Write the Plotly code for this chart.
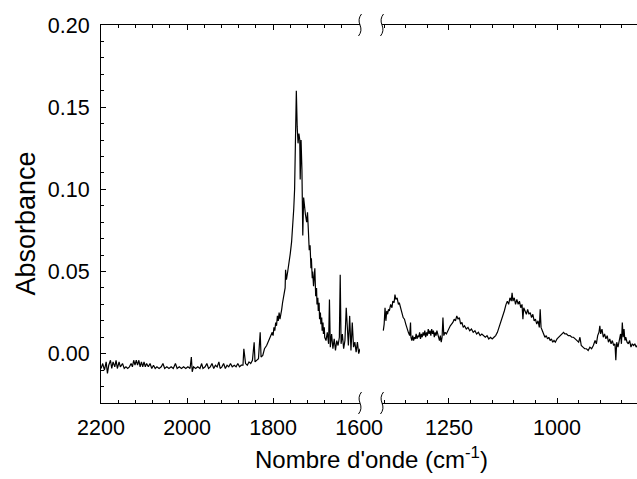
import plotly.graph_objects as go
from plotly.subplots import make_subplots

# IR absorbance spectrum, carbonyl region (2200-1598 cm-1)
wn_high = [2200, 2196, 2192, 2188, 2185, 2182, 2178, 2175, 2172, 2168, 2165, 2162, 2158, 2155, 2150,
           2146, 2142, 2138, 2134, 2130, 2127, 2124, 2121, 2118, 2115, 2112, 2109, 2106, 2103, 2100,
           2097, 2094, 2090, 2086, 2082, 2078, 2074, 2070, 2065, 2060, 2056, 2052, 2047, 2042, 2037,
           2032, 2027, 2023, 2018, 2013, 2008, 2003, 1998, 1993, 1990, 1988, 1985, 1980, 1975, 1970,
           1966, 1963, 1958, 1954, 1950, 1946, 1942, 1938, 1934, 1930, 1926, 1923, 1919, 1915, 1911,
           1907, 1903, 1899, 1895, 1890, 1886, 1882, 1878, 1874, 1870, 1868, 1864, 1860, 1856, 1852,
           1848, 1844, 1842, 1838, 1834, 1830, 1828, 1824, 1820, 1815, 1810, 1806,
           1802, 1800, 1798, 1796, 1794, 1792, 1790, 1788, 1786, 1784, 1782, 1780, 1778, 1776, 1774, 1772,
           1771, 1769, 1766, 1763, 1760, 1757, 1754, 1752, 1750,
           1748, 1746, 1744, 1742, 1740, 1738, 1737, 1735, 1733, 1731, 1729, 1727, 1725, 1722, 1720,
           1718, 1716, 1714, 1712, 1711, 1709, 1708, 1706, 1705, 1703, 1701, 1699, 1698, 1696, 1695,
           1693, 1692, 1690, 1689, 1687, 1686, 1684, 1683, 1681, 1680,
           1677, 1674, 1671, 1669, 1667, 1664, 1661, 1658, 1655, 1652, 1649, 1646, 1644, 1642, 1639,
           1636, 1633, 1630, 1627, 1625, 1622, 1619, 1616, 1613, 1610, 1607, 1604, 1601, 1598]
abs_high = [-0.009, -0.006, -0.010, -0.005, -0.012, -0.007, -0.004, -0.009, -0.005, -0.008, -0.004, -0.009, -0.005, -0.008, -0.006,
            -0.009, -0.008, -0.009, -0.008, -0.006, -0.008, -0.004, -0.007, -0.004, -0.007, -0.004, -0.008, -0.005, -0.008, -0.005,
            -0.008, -0.006, -0.008, -0.006, -0.009, -0.007, -0.009, -0.008, -0.009, -0.008, -0.006, -0.009, -0.008, -0.009, -0.008,
            -0.009, -0.006, -0.009, -0.008, -0.009, -0.008, -0.009, -0.008, -0.009, -0.002, -0.011, -0.008, -0.009, -0.008, -0.009,
            -0.006, -0.009, -0.008, -0.006, -0.009, -0.008, -0.006, -0.009, -0.007, -0.008, -0.005, -0.009, -0.008, -0.006, -0.009,
            -0.007, -0.008, -0.006, -0.008, -0.007, -0.008, -0.006, -0.008, -0.007, -0.007, 0.003, -0.006, -0.007, -0.005, -0.006,
            -0.004, 0.007, -0.005, -0.004, -0.003, 0.013, -0.002, -0.001, 0.003, 0.005, 0.008, 0.010,
            0.013, 0.011, 0.016, 0.014, 0.019, 0.017, 0.023, 0.020, 0.025, 0.021, 0.026, 0.027, 0.031, 0.034, 0.038, 0.040,
            0.051, 0.045, 0.050, 0.055, 0.061, 0.068, 0.078, 0.088, 0.100,
            0.125, 0.160, 0.138, 0.128, 0.134, 0.130, 0.106, 0.130, 0.112, 0.072, 0.095, 0.088, 0.085, 0.080, 0.086,
            0.075, 0.063, 0.066, 0.052, 0.058, 0.046, 0.050, 0.041, 0.046, 0.052, 0.035, 0.040, 0.030, 0.034, 0.026,
            0.031, 0.021, 0.025, 0.018, 0.022, 0.014, 0.019, 0.012, 0.016, 0.010,
            0.008, 0.013, 0.006, 0.033, 0.004, 0.012, 0.003, 0.009, 0.002, 0.008, 0.005, 0.010, 0.048, 0.006, 0.012,
            0.003, 0.008, 0.028, 0.010, 0.005, 0.023, 0.002, 0.019, 0.004, 0.007, 0.001, 0.007, 0.000, 0.003]

# Fingerprint region (1402-815 cm-1)
wn_low = [1402, 1400, 1398, 1396, 1394, 1392, 1390, 1388, 1385, 1382, 1380, 1377, 1375, 1373, 1370,
          1367, 1365, 1362, 1359, 1356, 1353, 1350, 1347, 1344, 1341, 1339,
          1338, 1336, 1334, 1332, 1330, 1328, 1326, 1324, 1322, 1320, 1318, 1316, 1314, 1312, 1310,
          1308, 1306, 1304, 1302, 1300, 1298, 1296, 1294, 1292, 1290, 1288, 1286, 1284, 1282, 1280,
          1278, 1276, 1274, 1272, 1270, 1268, 1266, 1264, 1262, 1259, 1256, 1253, 1250, 1247, 1244, 1241,
          1238, 1235, 1232, 1229, 1226, 1223, 1220, 1217, 1214, 1210, 1206, 1202, 1198, 1194, 1190,
          1186, 1182, 1178, 1174, 1170, 1166, 1162, 1158, 1154, 1150, 1146, 1142, 1138, 1134, 1130,
          1126, 1122, 1118, 1115, 1112, 1109, 1106, 1104, 1102, 1099, 1096, 1093, 1090, 1087, 1084,
          1081, 1079, 1077, 1074, 1071, 1068, 1065, 1062, 1059, 1056, 1053, 1050, 1047, 1044, 1041,
          1039, 1037, 1034, 1031, 1028, 1025, 1022, 1019, 1016, 1013, 1010, 1007, 1004, 1000, 996,
          992, 988, 985, 982, 978, 974, 970, 966, 962, 958, 954, 950, 947, 944, 940,
          936, 932, 928, 924, 920, 916, 912, 909, 906, 903, 901, 899, 896, 893, 890,
          887, 884, 881, 878, 875, 872, 869, 866, 864, 862, 859, 856, 853, 851, 849,
          847, 845, 843, 841, 838, 835, 832, 829, 826, 823, 820, 817, 815]
abs_low = [0.014, 0.018, 0.028, 0.020, 0.026, 0.024, 0.027, 0.026, 0.030, 0.028, 0.032, 0.031, 0.036, 0.033, 0.034,
           0.030, 0.031, 0.027, 0.025, 0.022, 0.021, 0.018, 0.015, 0.013, 0.011, 0.019,
           0.010, 0.008, 0.011, 0.008, 0.010, 0.009, 0.012, 0.009, 0.011, 0.010, 0.013, 0.009, 0.012, 0.010, 0.013,
           0.011, 0.014, 0.010, 0.013, 0.011, 0.015, 0.012, 0.014, 0.011, 0.015, 0.012, 0.014, 0.010, 0.013, 0.011,
           0.014, 0.012, 0.010, 0.008, 0.011, 0.007, 0.010, 0.022, 0.011, 0.013, 0.012, 0.014, 0.015, 0.017, 0.018, 0.019,
           0.021, 0.020, 0.023, 0.021, 0.022, 0.018, 0.019, 0.016, 0.017, 0.015, 0.016, 0.014, 0.015, 0.013, 0.014,
           0.012, 0.013, 0.011, 0.012, 0.011, 0.010, 0.011, 0.009, 0.010, 0.009, 0.010, 0.011, 0.013, 0.016, 0.019,
           0.022, 0.026, 0.030, 0.032, 0.030, 0.034, 0.032, 0.037, 0.032, 0.034, 0.030, 0.033, 0.030, 0.032, 0.028,
           0.030, 0.021, 0.028, 0.026, 0.024, 0.027, 0.024, 0.025, 0.022, 0.024, 0.020, 0.021, 0.018, 0.020, 0.016,
           0.027, 0.016, 0.014, 0.012, 0.010, 0.011, 0.009, 0.010, 0.008, 0.009, 0.007, 0.008, 0.007, 0.009, 0.010,
           0.011, 0.012, 0.013, 0.012, 0.012, 0.011, 0.011, 0.010, 0.010, 0.009, 0.008, 0.007, 0.010, 0.005, 0.004,
           0.003, 0.003, 0.002, 0.004, 0.003, 0.005, 0.008, 0.006, 0.011, 0.013, 0.017, 0.012, 0.015, 0.010, 0.012,
           0.009, 0.011, 0.007, 0.009, 0.006, 0.008, 0.005, 0.006, -0.004, 0.007, 0.004, 0.008, 0.012, 0.006, 0.019,
           0.010, 0.015, 0.008, 0.010, 0.007, 0.006, 0.008, 0.004, 0.006, 0.005, 0.006, 0.004, 0.005]

high_ticks = [2200, 2000, 1800, 1600]
low_ticks = [1250, 1000]
y_ticks = [0.00, 0.05, 0.10, 0.15, 0.20]
y_tick_text = ["0.00", "0.05", "0.10", "0.15", "0.20"]

W, H = 637, 479
ML, MR, MT, MB = 101, 0, 25, 76
PW, PH = W - ML - MR, H - MT - MB
left_end_px, right_start_px = 360, 382
dom_left = [0, (left_end_px - ML) / PW]
dom_right = [(right_start_px - ML) / PW, 1]

FONT = "Liberation Sans, Arial, Helvetica, sans-serif"
TICK_SIZE = 21.5

fig = make_subplots(rows=1, cols=2, shared_yaxes=False, horizontal_spacing=0.04)

line_style = dict(color="black", width=1.2)
fig.add_trace(go.Scatter(x=wn_high, y=abs_high, mode="lines", line=line_style,
                         showlegend=False, hoverinfo="skip"), row=1, col=1)
fig.add_trace(go.Scatter(x=wn_low, y=abs_low, mode="lines", line=line_style,
                         showlegend=False, hoverinfo="skip"), row=1, col=2)

xcommon = dict(showgrid=False, zeroline=False, showline=True, linecolor="black", linewidth=1,
               mirror="ticks", ticks="inside", ticklen=5, tickwidth=1, tickcolor="black",
               automargin=False,
               tickfont=dict(family=FONT, size=TICK_SIZE, color="black"), ticklabelstandoff=5)

fig.update_layout(
    width=W, height=H,
    margin=dict(l=ML, r=MR, t=MT, b=MB, autoexpand=False),
    paper_bgcolor="white", plot_bgcolor="white",
    showlegend=False,
    xaxis=dict(domain=dom_left, range=[2200, 1598], tickmode="array", tickvals=high_ticks,
               minor=dict(tick0=2200, dtick=40, ticks="inside", ticklen=3, tickcolor="black"),
               **xcommon),
    xaxis2=dict(domain=dom_right, range=[1405, 815], tickmode="array", tickvals=low_ticks,
                minor=dict(tick0=1000, dtick=50, ticks="inside", ticklen=3, tickcolor="black"),
                **xcommon),
    yaxis=dict(range=[-0.03, 0.20], tickmode="array", tickvals=y_ticks, ticktext=y_tick_text,
               showgrid=False, zeroline=False, showline=True, linecolor="black", linewidth=1,
               ticks="inside", ticklen=5, tickwidth=1, tickcolor="black", automargin=False,
               minor=dict(dtick=0.01, tick0=0, ticks="inside", ticklen=3, tickcolor="black"),
               tickfont=dict(family=FONT, size=TICK_SIZE, color="black"), ticklabelstandoff=6),
    yaxis2=dict(range=[-0.03, 0.20], matches="y", showgrid=False, zeroline=False,
                showline=False, showticklabels=False, ticks="", automargin=False),
)

# axis break marks at both ends of the gap, top and bottom
squiggle = "M 1.5,11 Q -2.5,6 0,0 Q 2.5,-6 -1.5,-11"
shapes = []
for px in (left_end_px, right_start_px):
    for yp in (0, 1):
        shapes.append(dict(type="path", xref="paper", yref="paper",
                           xsizemode="pixel", ysizemode="pixel",
                           xanchor=(px - ML) / PW, yanchor=yp,
                           path=squiggle, line=dict(color="black", width=1)))
fig.update_layout(shapes=shapes)

fig.add_annotation(text="Absorbance", xref="paper", yref="paper",
                   x=(25 - ML) / PW, y=(MT + PH - 223.5) / PH, textangle=-90,
                   showarrow=False, xanchor="center", yanchor="middle",
                   font=dict(family=FONT, size=27, color="black"))
fig.add_annotation(text="Nombre d'onde (cm<sup>-1</sup>)", xref="paper", yref="paper",
                   x=(371.5 - ML) / PW, y=(MT + PH - 458) / PH,
                   showarrow=False, xanchor="center", yanchor="middle",
                   font=dict(family=FONT, size=24, color="black"))

fig.write_html("out.html")
